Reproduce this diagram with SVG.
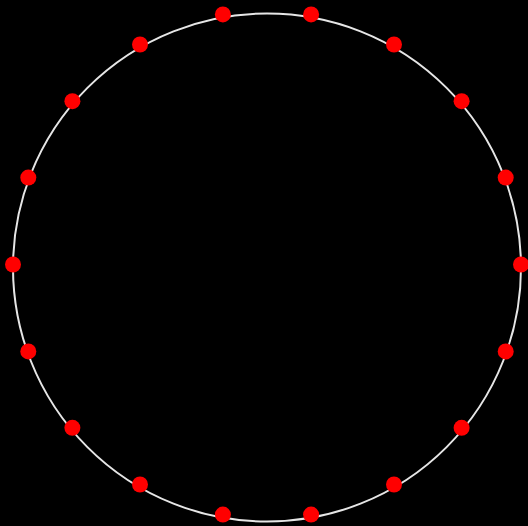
<svg xmlns="http://www.w3.org/2000/svg" width="528" height="526" viewBox="0 0 528 526">
<style>
.ring{fill:none;stroke:#e6e6e6;stroke-width:2}
.dot{fill:#ff0000}
</style>
<rect width="528" height="526" fill="#000"/>
<g id="connectors"><circle class="ring" cx="267" cy="267.5" r="254"/></g>
<g id="n0"><circle class="dot" cx="521" cy="264.5" r="8"/></g>
<g id="n1"><circle class="dot" cx="505.7" cy="177.6" r="8"/></g>
<g id="n2"><circle class="dot" cx="461.6" cy="101.2" r="8"/></g>
<g id="n3"><circle class="dot" cx="394" cy="44.5" r="8"/></g>
<g id="n4"><circle class="dot" cx="311.1" cy="14.4" r="8"/></g>
<g id="n5"><circle class="dot" cx="222.9" cy="14.4" r="8"/></g>
<g id="n6"><circle class="dot" cx="140" cy="44.5" r="8"/></g>
<g id="n7"><circle class="dot" cx="72.4" cy="101.2" r="8"/></g>
<g id="n8"><circle class="dot" cx="28.3" cy="177.6" r="8"/></g>
<g id="n9"><circle class="dot" cx="13" cy="264.5" r="8"/></g>
<g id="n10"><circle class="dot" cx="28.3" cy="351.4" r="8"/></g>
<g id="n11"><circle class="dot" cx="72.4" cy="427.8" r="8"/></g>
<g id="n12"><circle class="dot" cx="140" cy="484.5" r="8"/></g>
<g id="n13"><circle class="dot" cx="222.9" cy="514.6" r="8"/></g>
<g id="n14"><circle class="dot" cx="311.1" cy="514.6" r="8"/></g>
<g id="n15"><circle class="dot" cx="394" cy="484.5" r="8"/></g>
<g id="n16"><circle class="dot" cx="461.6" cy="427.8" r="8"/></g>
<g id="n17"><circle class="dot" cx="505.7" cy="351.4" r="8"/></g>
</svg>
